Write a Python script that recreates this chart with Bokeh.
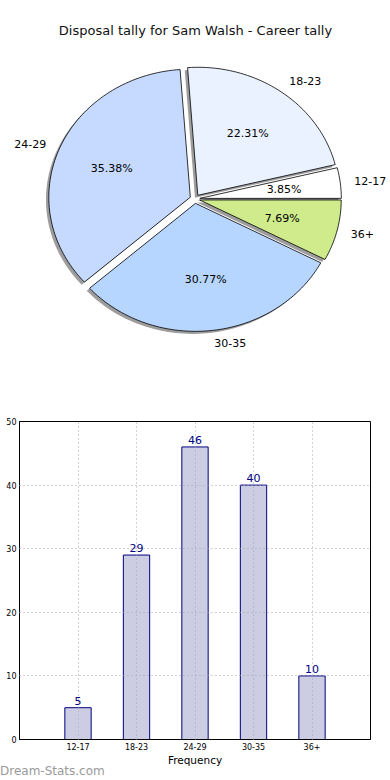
import numpy as np
from bokeh.plotting import figure
from bokeh.models import Range1d, FixedTicker, Div
from bokeh.embed import file_html
from bokeh.resources import INLINE
from bokeh.core.properties import value

# ---- data ----
chart_title = "Disposal tally for Sam Walsh - Career tally"
categories = ["12-17", "18-23", "24-29", "30-35", "36+"]
tallies = [5, 29, 46, 40, 10]
slice_colors = ["#ffffff", "#ebf2ff", "#c6daff", "#b7d6ff", "#cfeb8b"]
x_label = "Frequency"
y_ticks = [0, 10, 20, 30, 40, 50]
watermark = "Dream-Stats.com"

FONT = "DejaVu Sans"

# ---- pie ----
W1, H1 = 390, 388
RX, RY = 141.5, 128.0
CX, CY = 194.4, 198.4
explode = 0.035
shadow_off = 0.02

pie = figure(width=W1, height=H1,
             x_range=Range1d(-CX / RX, (W1 - CX) / RX),
             y_range=Range1d((CY - H1) / RY, CY / RY),
             output_backend="svg", toolbar_location=None, min_border=0,
             x_axis_location=None, y_axis_location=None)
pie.grid.visible = False
pie.outline_line_color = None

vals = np.array(tallies, dtype=float)
frac = vals / vals.sum()
ends = np.cumsum(frac) * 2 * np.pi
starts = ends - frac * 2 * np.pi
mids = (starts + ends) / 2

xs, ys, sxs, sys_ = [], [], [], []
offs = []
for a0, a1, m in zip(starts, ends, mids):
    n = max(int((a1 - a0) / (2 * np.pi) * 240), 6)
    t = np.linspace(a0, a1, n)
    ox, oy = explode * np.cos(m), explode * np.sin(m)
    offs.append((ox, oy))
    px = np.r_[ox, ox + np.cos(t)]
    py = np.r_[oy, oy + np.sin(t)]
    xs.append(px.tolist())
    ys.append(py.tolist())
    sxs.append((px - shadow_off).tolist())
    sys_.append((py - shadow_off).tolist())

pie.patches(sxs, sys_, fill_color="#8c8c8c", fill_alpha=0.85, line_color=None)
pie.patches(xs, ys, fill_color=slice_colors, line_color="black", line_width=0.8)

lx_l, ly_l, lt_l, lx_r, ly_r, lt_r = [], [], [], [], [], []
pxs, pys, pts = [], [], []
for (ox, oy), m, c, f in zip(offs, mids, categories, frac):
    lx = ox + 1.1 * np.cos(m)
    ly = oy + 1.1 * np.sin(m)
    if np.cos(m) >= 0:
        lx_l.append(lx); ly_l.append(ly); lt_l.append(c)
    else:
        lx_r.append(lx); ly_r.append(ly); lt_r.append(c)
    pxs.append(ox + 0.6 * np.cos(m))
    pys.append(oy + 0.6 * np.sin(m))
    pts.append(f"{100 * f:.2f}%")

common = dict(text_font=value(FONT), text_font_size="11px", text_color="black",
              text_baseline="middle")
pie.text(x=lx_l, y=ly_l, text=lt_l, text_align="left", **common)
pie.text(x=lx_r, y=ly_r, text=lt_r, text_align="right", **common)
pie.text(x=pxs, y=pys, text=pts, text_align="center", **common)

pie.text(x=[(195 - CX) / RX], y=[(CY - 30) / RY], text=[chart_title],
         text_font=value(FONT), text_font_size="13px", text_color="#111111",
         text_align="center", text_baseline="middle")

# ---- bar ----
W2, H2 = 390, 380
xpos = list(range(len(categories)))
bar = figure(width=W2, height=H2,
             x_range=Range1d(-1, len(categories)), y_range=Range1d(0, 50),
             output_backend="svg", toolbar_location=None,
             min_border_left=19, min_border_right=20,
             min_border_top=33, min_border_bottom=28)

bar.vbar(x=xpos, top=tallies, width=0.45, fill_color="#ccccE3",
         line_color="#000080", line_width=1)
bar.text(x=xpos, y=tallies, text=[str(v) for v in tallies], text_align="center",
         text_baseline="bottom", y_offset=-3, text_color="#000080",
         text_font=value(FONT), text_font_size="11px")

bar.xaxis.ticker = FixedTicker(ticks=xpos)
bar.xaxis.major_label_overrides = {i: c for i, c in zip(xpos, categories)}
bar.yaxis.ticker = FixedTicker(ticks=y_ticks)
bar.xgrid.ticker = FixedTicker(ticks=xpos)
bar.ygrid.ticker = FixedTicker(ticks=y_ticks)
for ax in (bar.xaxis, bar.yaxis):
    ax.major_tick_line_color = None
    ax.minor_tick_line_color = None
    ax.major_tick_out = 0
    ax.major_tick_in = 0
    ax.major_label_standoff = 3
    ax.major_label_text_font = FONT
    ax.major_label_text_font_size = "8px"
    ax.major_label_text_color = "black"
    ax.axis_line_color = "black"
bar.xaxis.axis_label = x_label
bar.xaxis.axis_label_text_font = FONT
bar.xaxis.axis_label_text_font_size = "10.5px"
bar.xaxis.axis_label_text_font_style = "normal"
bar.xaxis.axis_label_text_color = "black"
bar.xaxis.axis_label_standoff = 1
for g in (bar.xgrid, bar.ygrid):
    g.grid_line_color = "#a8a8a8"
    g.grid_line_dash = "1 3"
    g.grid_line_width = 1
    g.level = "overlay"
bar.outline_line_color = "black"
bar.outline_line_width = 1
bar.outline_line_alpha = 1

mark = Div(text=watermark, width=390, height=12, margin=0,
           styles={"font-family": "DejaVu Sans", "font-size": "12px",
                   "color": "#9a9a9a", "line-height": "12px",
                   "white-space": "nowrap", "position": "relative",
                   "top": "-3px"})

open("out.html", "w").write(file_html([pie, bar, mark], INLINE))
